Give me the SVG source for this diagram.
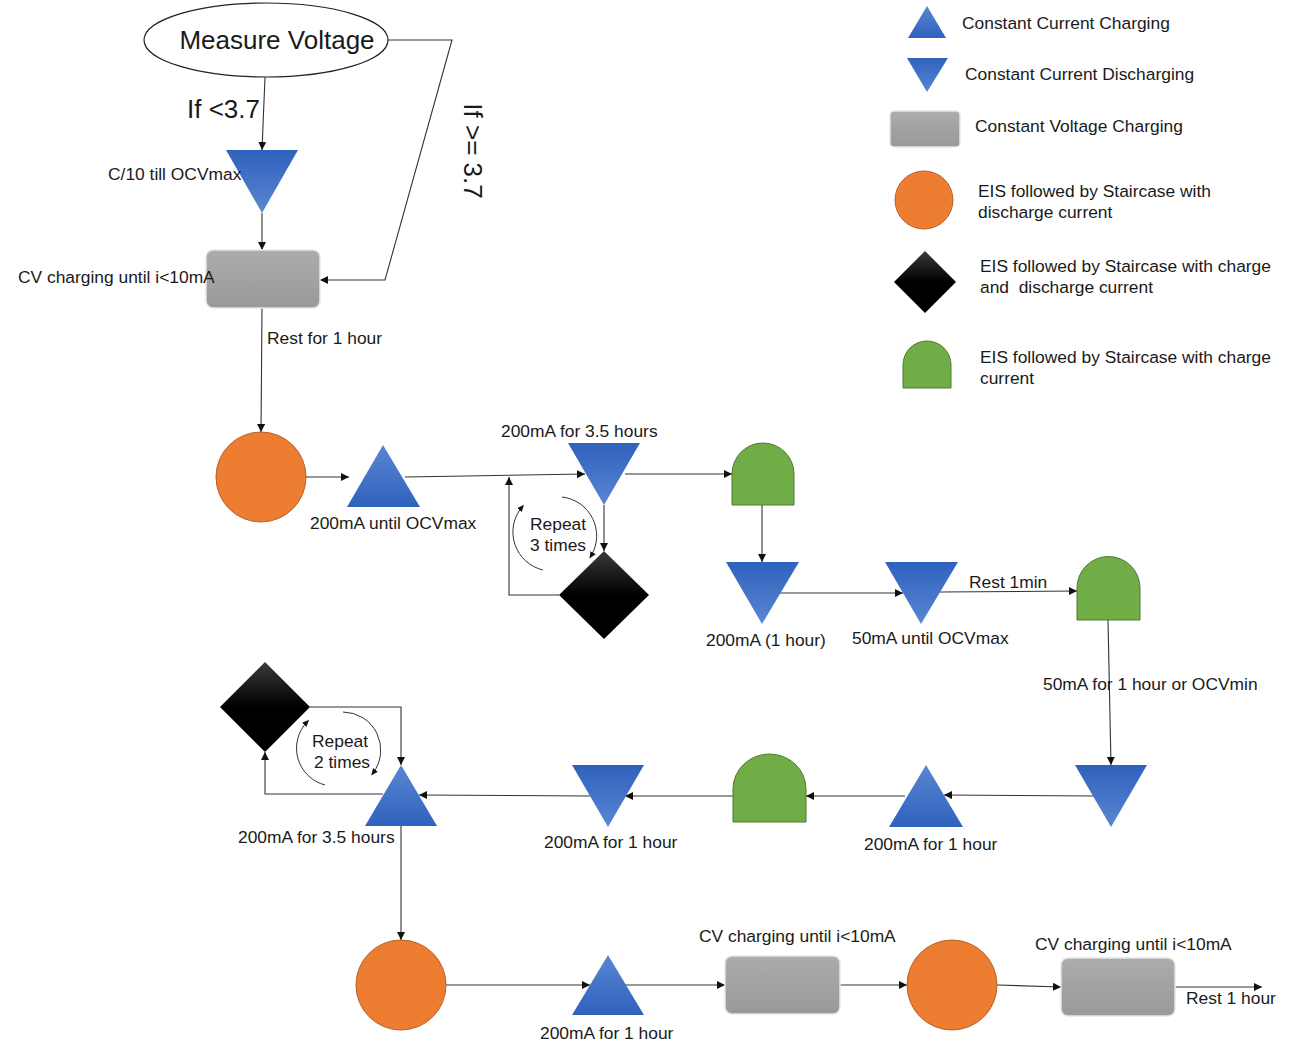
<svg xmlns="http://www.w3.org/2000/svg" width="1299" height="1043" viewBox="0 0 1299 1043">
<style>
text{font-family:"Liberation Sans",Arial,sans-serif;font-size:17.4px;fill:#1a1a1a;white-space:pre}
.big{font-size:26px}
.ln{fill:none;stroke:#333;stroke-width:1.1}
.arc{fill:none;stroke:#333;stroke-width:1}
.up{fill:url(#gUp)}
.dn{fill:url(#gDn)}
.cv{fill:url(#gGray);stroke:#e6e6e6;stroke-width:1.5}
.or{fill:#ed7d31;stroke:#b5602a;stroke-width:1}
.gr{fill:#70ad47;stroke:#4e7a30;stroke-width:1}
.dm{fill:url(#gDia)}
</style>
<defs>
<linearGradient id="gUp" x1="0" y1="0" x2="0" y2="1"><stop offset="0" stop-color="#5a86d2"/><stop offset="1" stop-color="#2f62bd"/></linearGradient>
<linearGradient id="gDn" x1="0" y1="0" x2="0" y2="1"><stop offset="0" stop-color="#2f62bd"/><stop offset="1" stop-color="#5a86d2"/></linearGradient>
<linearGradient id="gGray" x1="0" y1="0" x2="0" y2="1"><stop offset="0" stop-color="#acacac"/><stop offset="1" stop-color="#999"/></linearGradient>
<linearGradient id="gDia" x1="0" y1="0" x2="0" y2="1"><stop offset="0" stop-color="#3a3a3a"/><stop offset="0.5" stop-color="#000"/><stop offset="1" stop-color="#000"/></linearGradient>
<marker id="ar" markerWidth="9" markerHeight="9" refX="8" refY="4" orient="auto" markerUnits="userSpaceOnUse"><path d="M0,0 L8,4 L0,8 z" fill="#111"/></marker>
<marker id="dot" markerWidth="8" markerHeight="8" refX="4" refY="4" orient="auto" markerUnits="userSpaceOnUse"><path d="M0,1 L7,4 L0,7 z" fill="#111"/></marker>
</defs>

<!-- connectors -->
<g id="connectors">
<path class="ln" d="M265,77 L262,150" marker-end="url(#ar)"/>
<path class="ln" d="M388,40 L452,40 L385,280 L320,280" marker-end="url(#ar)"/>
<path class="ln" d="M262,213 L262,250" marker-end="url(#ar)"/>
<path class="ln" d="M262,308 L261,432" marker-end="url(#ar)"/>
<path class="ln" d="M306,477 L349,477" marker-end="url(#ar)"/>
<path class="ln" d="M405,477 L585,474" marker-end="url(#ar)"/>
<path class="ln" d="M625,474 L732,474" marker-end="url(#ar)"/>
<path class="ln" d="M604,505 L604,551" marker-end="url(#ar)"/>
<path class="ln" d="M559,595 L509,595 L509,477" marker-end="url(#ar)"/>
<path class="arc" d="M543,570 A39,39 0 0 1 522,507" marker-end="url(#dot)"/>
<path class="arc" d="M562,497 A39,39 0 0 1 591,556" marker-end="url(#dot)"/>
<path class="ln" d="M762,505 L762,562" marker-end="url(#ar)"/>
<path class="ln" d="M780,593 L903,593" marker-end="url(#ar)"/>
<path class="ln" d="M940,592 L1077,591" marker-end="url(#ar)"/>
<path class="ln" d="M1108,620 L1111,765" marker-end="url(#ar)"/>
<path class="ln" d="M1095,796 L944,795" marker-end="url(#ar)"/>
<path class="ln" d="M905,796 L806,796" marker-end="url(#ar)"/>
<path class="ln" d="M733,796 L625,796" marker-end="url(#ar)"/>
<path class="ln" d="M590,796 L419,795" marker-end="url(#ar)"/>
<path class="ln" d="M383,794 L265,794 L265,752" marker-end="url(#ar)"/>
<path class="ln" d="M310,707 L401,707 L401,765" marker-end="url(#ar)"/>
<path class="arc" d="M325,785 A38,38 0 0 1 307,722" marker-end="url(#dot)"/>
<path class="arc" d="M343,712 A38,38 0 0 1 373,773" marker-end="url(#dot)"/>
<path class="ln" d="M401,826 L401,940" marker-end="url(#ar)"/>
<path class="ln" d="M446,985 L590,985" marker-end="url(#ar)"/>
<path class="ln" d="M625,985 L725,985" marker-end="url(#ar)"/>
<path class="ln" d="M840,985 L907,985" marker-end="url(#ar)"/>
<path class="ln" d="M997,985 L1061,987" marker-end="url(#ar)"/>
<path class="ln" d="M1175,987 L1262,987" marker-end="url(#ar)"/>
</g>

<!-- flow nodes -->
<g id="measure"><ellipse cx="266" cy="40" rx="122" ry="37" fill="#fff" stroke="#222" stroke-width="1.2"/><text class="big" x="277" y="49" text-anchor="middle">Measure Voltage</text></g>
<g id="lbl-lt"><text class="big" x="187" y="118">If &lt;3.7</text></g>
<g id="lbl-ge"><text class="big" transform="translate(464,151) rotate(90)" text-anchor="middle">If &gt;= 3.7</text></g>
<g id="d1"><path class="dn" d="M226,150 L298,150 L262,213 z"/><text x="108" y="180">C/10 till OCVmax</text></g>
<g id="cv1"><rect class="cv" x="206" y="250" width="114" height="58" rx="7"/><text x="18" y="283">CV charging until i&lt;10mA</text></g>
<g id="lbl-rest"><text x="267" y="344">Rest for 1 hour</text></g>
<g id="o1"><circle class="or" cx="261" cy="477" r="45"/></g>
<g id="u1"><path class="up" d="M383,445 L420,507 L347,507 z"/><text x="310" y="529">200mA until OCVmax</text></g>
<g id="d2"><path class="dn" d="M568,443 L640,443 L604,505 z"/><text x="501" y="437">200mA for 3.5 hours</text></g>
<g id="g1"><path class="gr" d="M732,505 L732,474 A31,31 0 0 1 794,474 L794,505 z"/></g>
<g id="k1"><path class="dm" d="M604,551 L649,595 L604,639 L559,595 z"/><text x="530" y="530">Repeat</text><text x="530" y="551">3 times</text></g>
<g id="d3"><path class="dn" d="M726,562 L799,562 L762,624 z"/><text x="706" y="646">200mA (1 hour)</text></g>
<g id="d4"><path class="dn" d="M885,562 L958,562 L921,624 z"/><text x="852" y="644">50mA until OCVmax</text></g>
<g id="lbl-rest1"><text x="969" y="588">Rest 1min</text></g>
<g id="g2"><path class="gr" d="M1077,620 L1077,588 A31.5,31.5 0 0 1 1140,588 L1140,620 z"/></g>
<g id="lbl-50"><text x="1043" y="690">50mA for 1 hour or OCVmin</text></g>
<g id="d5"><path class="dn" d="M1075,765 L1147,765 L1111,827 z"/></g>
<g id="u2"><path class="up" d="M926,765 L963,827 L889,827 z"/><text x="864" y="850">200mA for 1 hour</text></g>
<g id="g3"><path class="gr" d="M733,822 L733,789 A36.5,35 0 0 1 806,789 L806,822 z"/></g>
<g id="d6"><path class="dn" d="M572,765 L644,765 L608,827 z"/><text x="544" y="848">200mA for 1 hour</text></g>
<g id="u3"><path class="up" d="M401,765 L437,826 L365,826 z"/><text x="238" y="843">200mA for 3.5 hours</text></g>
<g id="k2"><path class="dm" d="M265,662 L310,707 L265,752 L220,707 z"/><text x="312" y="747">Repeat</text><text x="314" y="768">2 times</text></g>
<g id="o2"><circle class="or" cx="401" cy="985" r="45"/></g>
<g id="u4"><path class="up" d="M608,955 L644,1015 L572,1015 z"/><text x="540" y="1039">200mA for 1 hour</text></g>
<g id="cv2"><rect class="cv" x="725" y="956" width="115" height="58" rx="7"/><text x="699" y="942">CV charging until i&lt;10mA</text></g>
<g id="o3"><circle class="or" cx="952" cy="985" r="45"/></g>
<g id="cv3"><rect class="cv" x="1061" y="958" width="114" height="58" rx="7"/><text x="1035" y="950">CV charging until i&lt;10mA</text></g>
<g id="lbl-rest2"><text x="1186" y="1004">Rest 1 hour</text></g>

<!-- legend -->
<g id="leg-cc"><path class="up" d="M927,6 L946,38 L908,38 z"/><text x="962" y="29">Constant Current Charging</text></g>
<g id="leg-cd"><path class="dn" d="M907,58 L948,58 L927,92 z"/><text x="965" y="80">Constant Current Discharging</text></g>
<g id="leg-cv"><rect class="cv" x="890" y="111" width="70" height="36" rx="4"/><text x="975" y="132">Constant Voltage Charging</text></g>
<g id="leg-or"><circle class="or" cx="924" cy="200" r="29"/><text x="978" y="197">EIS followed by Staircase with</text><text x="978" y="218">discharge current</text></g>
<g id="leg-dm"><path class="dm" d="M925,251 L956,282 L925,313 L894,282 z"/><text x="980" y="272">EIS followed by Staircase with charge</text><text x="980" y="293">and  discharge current</text></g>
<g id="leg-gr"><path class="gr" d="M903,388 L903,365 A24,24 0 0 1 951,365 L951,388 z"/><text x="980" y="363">EIS followed by Staircase with charge</text><text x="980" y="384">current</text></g>
</svg>
